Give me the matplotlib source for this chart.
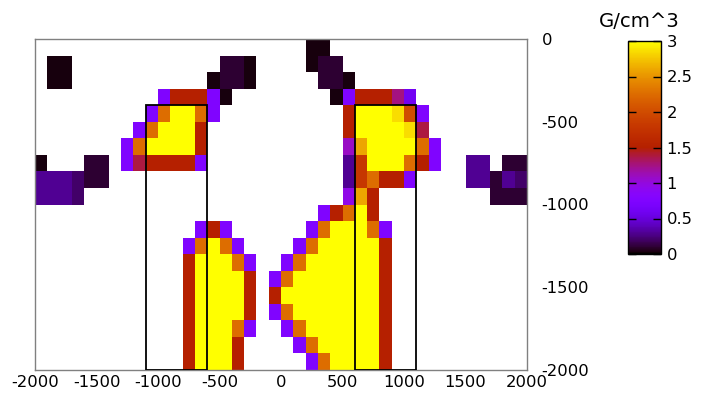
import numpy as np
import matplotlib
matplotlib.use("Agg")
import matplotlib.pyplot as plt
from matplotlib.patches import Rectangle

# cell edges of the density model (100 m cells)
x_edges = np.arange(-2000, 2001, 100)
y_edges = np.arange(0, -2001, -100)

# density (G/cm^3) for each colour code
levels = {"K": 0.03, "D": 0.1, "d": 0.2, "I": 0.3, "p": 0.6, "P": 0.75,
          "V": 0.95, "v": 1.08, "M": 1.25, "C": 1.38, "R": 1.5, "r": 1.8,
          "o": 2.0, "O": 2.25, "g": 2.6, "G": 2.85, "Y": 3.0}

# one string per 100 m depth row, 40 columns from x=-2000 to 2000
rows = [
    "......................KK................",
    ".KK............DDK....KDD...............",
    ".KK...........KDDK.....DDK..............",
    "..........PRRRPK........KPRRRMp.........",
    ".........POYYOP..........RYYYGoP........",
    "........POYYYR...........RYYYYGC........",
    ".......POYYYYR...........vgYYYYOP.......",
    "K...DD.PCRRRRP...........IrYYYORP..II.DD",
    "IIIdDD...................IrORRP....IIDId",
    "IIId.....................VgR.........DDD",
    ".......................PROYR............",
    ".............PRP......POYYYOP...........",
    "............POYOP....POYYYYYR...........",
    "............RYYYOP..POYYYYYYR...........",
    "............RYYYYR.POYYYYYYYR...........",
    "............RYYYYR.RYYYYYYYYR...........",
    "............RYYYYR.POYYYYYYYR...........",
    "............RYYYOP..POYYYYYYR...........",
    "............RYYYR....POYYYYYR...........",
    "............RYYYR.....POYYYYR...........",
]

# outlined bodies: (x0, x1, y0, y1)
boxes = [(-1100, -600, -2000, -400), (600, 1100, -2000, -400)]

x_ticks = [-2000, -1500, -1000, -500, 0, 500, 1000, 1500, 2000]
y_ticks = [0, -500, -1000, -1500, -2000]
cb_ticks = [0, 0.5, 1, 1.5, 2, 2.5, 3]


def main():
    plt.rcParams.update({"font.family": "DejaVu Sans", "font.size": 11.8,
                         "axes.unicode_minus": False})
    density = np.array([[levels.get(ch, np.nan) for ch in row] for row in rows])
    density = np.ma.masked_invalid(density)

    fig = plt.figure(figsize=(7.08, 3.96), dpi=100)
    ax = fig.add_axes([35/708, 26/396, 492/708, 331/396])
    mesh = ax.pcolormesh(x_edges, y_edges, density, cmap="gnuplot", vmin=0, vmax=3,
                         shading="flat", antialiased=False, linewidth=0)
    for x0, x1, y0, y1 in boxes:
        ax.add_patch(Rectangle((x0, y0), x1-x0, y1-y0, fill=False, edgecolor="black", linewidth=1.3, zorder=3))
    ax.set_xlim(-2000, 2000); ax.set_ylim(-2000, 0)
    ax.set_xticks(x_ticks); ax.set_yticks(y_ticks)
    ax.yaxis.tick_right()
    ax.tick_params(length=0)
    ax.tick_params(axis="x", pad=3.5)
    ax.tick_params(axis="y", pad=10.5)
    for s in ax.spines.values():
        s.set_color("#808080"); s.set_linewidth(1.0)

    cax = fig.add_axes([628/708, 142/396, 33/708, 213/396])
    cb = fig.colorbar(mesh, cax=cax, ticks=cb_ticks)
    cb.ax.set_yticklabels([f"{t:g}" for t in cb_ticks])
    cb.outline.set_edgecolor("black"); cb.outline.set_linewidth(1.0)
    cax.tick_params(direction="in", length=5.8, width=1, left=True, right=True,
                    color="black", pad=4)
    cax.set_title("G/cm^3", x=0.33, pad=10)

    fig.savefig("out.png", dpi=100)
    plt.close(fig)


if __name__ == "__main__": main()
